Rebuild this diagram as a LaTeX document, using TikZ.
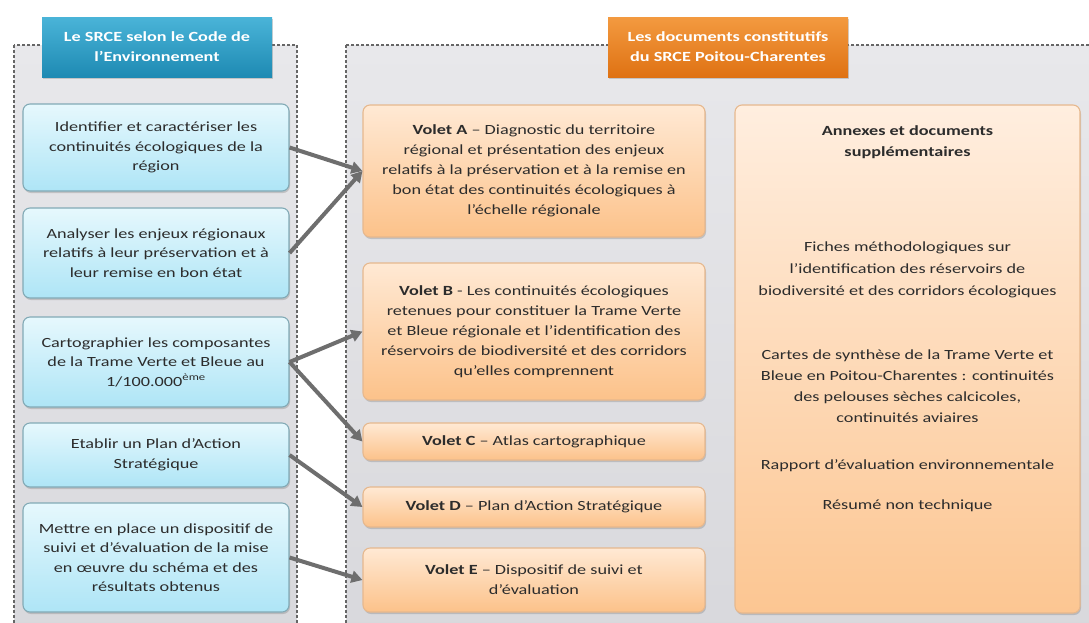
\documentclass[tikz,border=0pt]{standalone}
\usepackage{fontspec}
\setmainfont{Carlito}[FakeStretch=1.3]
\usetikzlibrary{arrows.meta,shadows}
\definecolor{txt}{HTML}{2C2C2C}
\definecolor{dashc}{HTML}{666666}
\definecolor{arrc}{HTML}{6E6E6E}
\definecolor{contT}{HTML}{E8E8EB}
\definecolor{contB}{HTML}{D8D8DC}
\definecolor{blT}{HTML}{E6F8FD}
\definecolor{blB}{HTML}{AEE5F6}
\definecolor{blD}{HTML}{82AAB6}
\definecolor{orT}{HTML}{FFE9D4}
\definecolor{orB}{HTML}{FCC28A}
\definecolor{orD}{HTML}{E6B88E}
\definecolor{anT}{HTML}{FFEEDF}
\definecolor{anB}{HTML}{FCC692}
\definecolor{tbT}{HTML}{4AB4D8}
\definecolor{tbB}{HTML}{1E8AB3}
\definecolor{toT}{HTML}{F39A40}
\definecolor{toB}{HTML}{DF7213}
\tikzset{
  container/.style={draw=dashc,line width=1.4pt,dash pattern=on 3pt off 2pt,top color=contT,bottom color=contB},
  bluebox/.style={draw=blD,line width=1.1pt,rounded corners=7pt,top color=blT,bottom color=blB,
     text=txt,align=center,inner sep=0pt,minimum width=266pt,font=\fontsize{14}{19.5}\selectfont,
     drop shadow={shadow xshift=1pt,shadow yshift=-2pt,opacity=0.35}},
  orbox/.style={draw=orD,line width=1.1pt,rounded corners=7pt,top color=orT,bottom color=orB,
     text=txt,align=center,inner sep=0pt,minimum width=342pt,font=\fontsize{14}{20}\selectfont,
     drop shadow={shadow xshift=1pt,shadow yshift=-2pt,opacity=0.35}},
  titleblue/.style={top color=tbT,bottom color=tbB,text=white,align=center,
     minimum width=230pt,minimum height=60pt,inner sep=0pt,font=\fontsize{14}{20}\selectfont\bfseries,
     drop shadow={shadow xshift=1pt,shadow yshift=-2pt,opacity=0.35}},
  titleor/.style={top color=toT,bottom color=toB,text=white,align=center,
     minimum width=240pt,minimum height=60pt,inner sep=0pt,font=\fontsize{14}{20}\selectfont\bfseries,
     drop shadow={shadow xshift=1pt,shadow yshift=-2pt,opacity=0.35}},
  annex/.style={text=txt,align=center,inner sep=0pt,font=\fontsize{14}{21}\selectfont},
  conn/.style={draw=arrc,line width=4pt,-{Triangle[length=11pt,width=12pt]}}
}
\begin{document}
\begin{tikzpicture}[x=1pt,y=-1pt]
\clip (0,0) rectangle (1089,622);
\fill[white] (0,0) rectangle (1089,622);
% containers
\path[container] (14,45) rectangle (297,640);
\path[container] (346,45) rectangle (1110,640);
% titles
\node[titleblue] (tl) at (157,47) {Le SRCE selon le Code de\\l'Environnement};
\node[titleor] (tr) at (728,47) {Les documents constitutifs\\du SRCE Poitou-Charentes};
% blue boxes
\node[bluebox,minimum height=87pt] (b1) at (156,147.5) {Identifier et caractériser les\\continuités écologiques de la\\région};
\node[bluebox,minimum height=90pt] (b2) at (156,253) {Analyser les enjeux régionaux\\relatifs à leur préservation et à\\leur remise en bon état};
\node[bluebox,minimum height=90pt] (b3) at (156,362) {Cartographier les composantes\\de la Trame Verte et Bleue au\\1/100.000\textsuperscript{ème}};
\node[bluebox,minimum height=64pt] (b4) at (156,455) {Etablir un Plan d'Action\\Stratégique};
\node[bluebox,minimum height=109pt] (b5) at (156,557.5) {Mettre en place un dispositif de\\suivi et d'évaluation de la mise\\en œuvre du schéma et des\\résultats obtenus};
% orange boxes
\node[orbox,minimum height=132pt] (va) at (534,171) {\textbf{Volet A} – Diagnostic du territoire\\régional et présentation des enjeux\\relatifs à la préservation et à la remise en\\bon état des continuités écologiques à\\l'échelle régionale};
\node[orbox,minimum height=137pt] (vb) at (534,331.5) {\textbf{Volet B} - Les continuités écologiques\\retenues pour constituer la Trame Verte\\et Bleue régionale et l'identification des\\réservoirs de biodiversité et des corridors\\qu'elles comprennent};
\node[orbox,minimum height=37pt] (vc) at (534,441.5) {\textbf{Volet C} – Atlas cartographique};
\node[orbox,minimum height=40pt] (vd) at (534,507) {\textbf{Volet D} – Plan d'Action Stratégique};
\node[orbox,minimum height=64pt] (ve) at (534,580) {\textbf{Volet E} – Dispositif de suivi et\\d'évaluation};
% annexes
\node[orbox,minimum width=345pt,minimum height=508pt,top color=anT,bottom color=anB] (an) at (907.5,359) {};
\node[annex,font=\fontsize{14}{21}\selectfont\bfseries] (an1) at (907.5,142) {Annexes et documents\\supplémentaires};
\node[annex,font=\fontsize{14}{22}\selectfont] (an2) at (907.5,270) {Fiches méthodologiques sur\\l'identification des réservoirs de\\biodiversité et des corridors écologiques};
\node[annex] (an3) at (907.5,386) {Cartes de synthèse de la Trame Verte et\\Bleue en Poitou-Charentes : continuités\\des pelouses sèches calcicoles,\\continuités aviaires};
\node[annex] (an4) at (907.5,466) {Rapport d'évaluation environnementale};
\node[annex] (an5) at (907.5,506) {Résumé non technique};
% connectors
\draw[conn] (b1.east) -- (va.west);
\draw[conn] (b2.east) -- (va.west);
\draw[conn] (b3.east) -- (vb.west);
\draw[conn] (b3.east) -- (vc.west);
\draw[conn] (b4.east) -- (vd.west);
\draw[conn] (b5.east) -- (ve.west);
\end{tikzpicture}
\end{document}
